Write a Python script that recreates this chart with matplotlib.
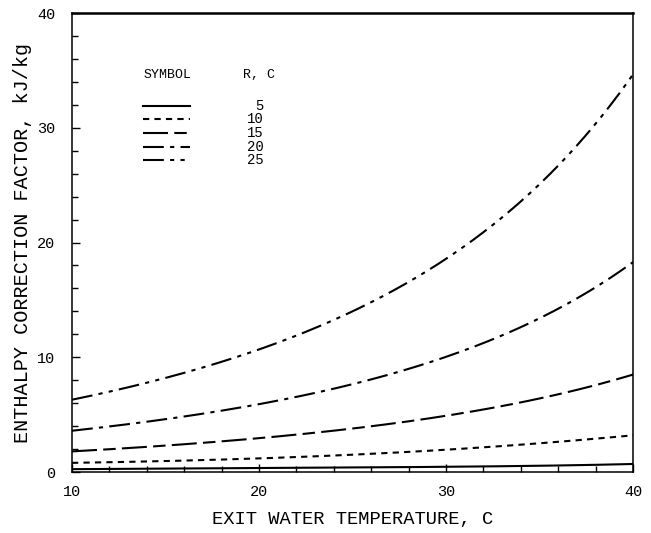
import numpy as np
import matplotlib.pyplot as plt

plt.rcParams['font.family'] = ['Liberation Mono', 'DejaVu Sans Mono']

# exit water temperature, C
temp = [10, 15, 20, 25, 30, 35, 40]

# enthalpy correction factor, kJ/kg, one list per range R
r5 = [0.25, 0.3, 0.35, 0.4, 0.45, 0.55, 0.7]
r10 = [0.8, 0.95, 1.2, 1.5, 1.95, 2.5, 3.2]
r15 = [1.8, 2.3, 2.95, 3.8, 4.9, 6.4, 8.5]
r20 = [3.6, 4.6, 5.9, 7.7, 10.0, 13.4, 18.3]
r25 = [6.3, 8.2, 10.7, 14.0, 18.5, 25.2, 34.6]

ranges = ['5', '10', '15', '20', '25']
curves = [r5, r10, r15, r20, r25]
styles = ['-', (0, (3, 2.5)), (0, (12, 3, 6, 3)), (0, (10, 3, 2, 3)),
          (0, (10, 3, 2, 3, 2, 3))]

fig = plt.figure(figsize=(6.51, 5.33), dpi=100)
ax = fig.add_axes([0.1106, 0.1144, 0.8618, 0.8612])

# smooth the curves a little between the read-off points
xs = np.linspace(10, 40, 200)
for y, ls in zip(curves, styles):
    coef = np.polyfit(temp, np.log(y), 3)
    ax.plot(xs, np.exp(np.polyval(coef, xs)), color='black', lw=1.5,
            linestyle=ls)

ax.set_xlim(10, 40)
ax.set_ylim(0, 40)
ax.set_xticks([10, 20, 30, 40])
ax.set_yticks([0, 10, 20, 30, 40])
ax.set_xticks(np.arange(10, 41, 2), minor=True)
ax.set_yticks(np.arange(0, 41, 2), minor=True)
ax.tick_params(which='major', direction='in', length=6, width=1,
               labelsize=11, top=False, right=False)
ax.tick_params(axis='y', which='major', pad=12)
ax.tick_params(axis='x', which='major', pad=9)
ax.tick_params(which='minor', direction='in', length=4, width=1,
               top=False, right=False)
for s in ax.spines.values():
    s.set_linewidth(1.1)
ax.spines['top'].set_linewidth(1.8)

ax.set_xlabel('EXIT WATER TEMPERATURE, C', fontsize=13.5, labelpad=9)
ax.set_ylabel('ENTHALPY CORRECTION FACTOR, kJ/kg', fontsize=14.5,
              labelpad=4)

# key in the upper left corner
ax.text(0.127, 0.865, 'SYMBOL', transform=ax.transAxes, fontsize=9.5,
        va='center')
ax.text(0.305, 0.865, 'R, C', transform=ax.transAxes, fontsize=9.5,
        va='center')
rows = [0.797, 0.768, 0.739, 0.709, 0.679]
for yy, lab, ls in zip(rows, ranges, styles):
    ax.plot([0.127, 0.21], [yy, yy], transform=ax.transAxes, color='black',
            lw=1.5, linestyle=ls)
    ax.text(0.342, yy, lab, transform=ax.transAxes, fontsize=10,
            ha='right', va='center')

fig.savefig('out.png', dpi=100)
